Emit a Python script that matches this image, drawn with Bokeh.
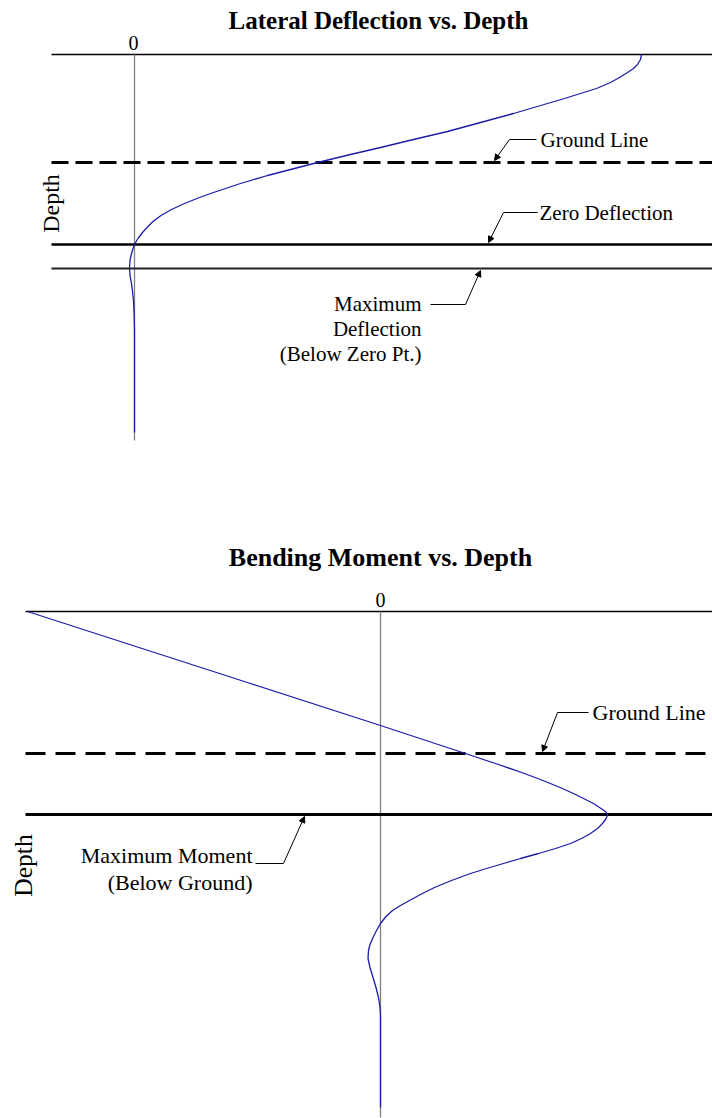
import math
from bokeh.plotting import figure
from bokeh.models import Range1d, Arrow, NormalHead
from bokeh.layouts import column
from bokeh.embed import file_html
from bokeh.resources import INLINE
from bokeh.core.properties import value

FONT = value("Liberation Serif")

# ---------------- Lateral deflection vs depth (units: 1 = 10 px of the original) -------------
defl_depth = [0, 0.5, 1.0, 1.4, 1.8, 2.3, 2.8, 3.4, 3.9, 4.4, 4.9, 5.9, 6.8, 7.7, 8.5, 9.3,
              10.0, 10.8, 12.1, 12.9, 13.8, 14.3, 14.9, 15.5, 16.1, 16.7, 17.3, 17.8, 18.3,
              18.6, 19.0, 19.5, 19.9, 20.6, 21.3, 22.1, 22.9, 23.7, 24.6, 26.1, 27.6, 37.8]
defl_value = [50.7, 50.6, 50.3, 49.9, 49.3, 48.5, 47.6, 46.2, 44.6, 43.0, 41.3, 37.9, 34.6, 31.3,
              27.9, 24.6, 21.6, 18.3, 13.3, 10.6, 7.9, 6.5, 5.0, 3.7, 2.65, 1.85, 1.25, 0.8, 0.42,
              0.22, 0.0, -0.18, -0.3, -0.45, -0.5, -0.45, -0.3, -0.2, -0.1, -0.03, 0.0, 0.0]
defl_pile_toe = 38.6
defl_ground = 10.8
defl_zero = 19.0
defl_max = 21.4
defl_line_start = -8.3

# ---------------- Bending moment vs depth -------------
mom_depth = [0, 7.2, 11.4, 14.2, 15.2, 16.2, 17.0, 17.7, 18.3, 18.8, 19.2, 19.6, 19.9, 20.1,
             20.3, 20.5, 20.8, 21.2, 21.7, 22.2, 22.7, 23.2, 23.7, 24.2, 24.7, 25.2, 25.7,
             26.2, 26.9, 27.6, 28.3, 28.9, 29.4, 29.9, 30.5, 31.2, 31.9, 32.6, 33.3, 33.9,
             34.7, 35.6, 36.6, 37.6, 38.6, 39.6, 40.4, 49.6]
mom_value = [-35.3, -13.0, 0.0, 8.5, 11.5, 14.4, 16.5, 18.2, 19.5, 20.5, 21.3, 21.9, 22.35, 22.6,
             22.7, 22.65, 22.5, 22.2, 21.7, 21.0, 20.1, 19.0, 17.5, 15.8, 14.0, 12.3, 10.6,
             9.0, 7.1, 5.4, 4.0, 2.9, 2.0, 1.2, 0.55, 0.0, -0.4, -0.75, -1.05, -1.2,
             -1.25, -1.05, -0.75, -0.45, -0.2, -0.05, 0.0, 0.0]
mom_pile_toe = 50.6
mom_ground = 14.2
mom_max = 20.3
mom_line_start = -35.5

# ---------------- annotation positions (data units) -------------
t1_title = (24.4, -3.4)
t1_zero = (-0.1, -1.2)
t1_ground_txt = (40.6, 8.5)
t1_ground_lead_x = [40.2, 37.5, 36.0]
t1_ground_lead_y = [8.5, 8.5, 10.6]
t1_zero_txt = (40.5, 15.8)
t1_zero_lead_x = [40.3, 36.9, 35.4]
t1_zero_lead_y = [15.8, 15.8, 18.8]
t1_max_txt_x = 28.7
t1_max_txt_y = [24.9, 27.4, 29.9]
t1_max_txt = ["Maximum", "Deflection", "(Below Zero Pt.)"]
t1_max_lead_x = [29.6, 33.1, 34.6]
t1_max_lead_y = [25.0, 25.0, 21.6]
t1_depth = (-8.4, 14.9)

t2_title = (0.0, -5.4)
t2_zero = (0.0, -1.2)
t2_ground_txt = (21.2, 10.1)
t2_ground_lead_x = [20.8, 17.7, 16.2]
t2_ground_lead_y = [10.1, 10.1, 14.0]
t2_max_txt_x = -12.8
t2_max_txt_y = [24.4, 27.1]
t2_max_txt = ["Maximum Moment", "(Below Ground)"]
t2_max_lead_x = [-12.5, -9.7, -7.6]
t2_max_lead_y = [25.2, 25.2, 20.5]
t2_depth = (-35.7, 25.4)

BLUE = "#1c1ca8"


def base_fig(w, h, xr, yr):
    p = figure(width=w, height=h, x_range=Range1d(*xr), y_range=Range1d(*yr),
               output_backend="svg", toolbar_location=None, min_border=0,
               x_axis_location=None, y_axis_location=None)
    p.grid.visible = False
    p.outline_line_color = None
    p.background_fill_color = "white"
    p.border_fill_color = "white"
    return p


def leader(p, xs, ys):
    p.line(xs[:2], ys[:2], line_color="black", line_width=1)
    p.add_layout(Arrow(end=NormalHead(size=6, fill_color="black", line_color="black", line_width=1),
                       x_start=xs[1], y_start=ys[1], x_end=xs[2], y_end=ys[2],
                       line_color="black", line_width=1))


# ================= Figure 1 =================
p1 = base_fig(712, 500, (-13.4, 57.8), (44.6, -5.4))
p1.segment(x0=[defl_line_start], y0=[0], x1=[100], y1=[0], line_color="black", line_width=1.3)
p1.segment(x0=[0], y0=[0], x1=[0], y1=[defl_pile_toe], line_color="#808080", line_width=1.3)
p1.segment(x0=[defl_line_start], y0=[defl_ground], x1=[100], y1=[defl_ground],
           line_color="black", line_width=3, line_dash="17 7")
p1.segment(x0=[defl_line_start], y0=[defl_zero], x1=[100], y1=[defl_zero],
           line_color="black", line_width=2.5)
p1.segment(x0=[defl_line_start], y0=[defl_max], x1=[100], y1=[defl_max],
           line_color="#222222", line_width=2)
p1.line(defl_value, defl_depth, line_color=BLUE, line_width=1.3)

p1.text(x=[t1_title[0]], y=[t1_title[1]], text=["Lateral Deflection vs. Depth"], text_font=FONT,
        text_font_size="25px", text_font_style="bold", text_align="center", text_baseline="middle")
p1.text(x=[t1_zero[0]], y=[t1_zero[1]], text=["0"], text_font=FONT, text_font_size="20px",
        text_align="center", text_baseline="middle")
p1.text(x=[t1_ground_txt[0]], y=[t1_ground_txt[1]], text=["Ground Line"], text_font=FONT,
        text_font_size="21px", text_align="left", text_baseline="middle")
p1.text(x=[t1_zero_txt[0]], y=[t1_zero_txt[1]], text=["Zero Deflection"], text_font=FONT,
        text_font_size="21px", text_align="left", text_baseline="middle")
p1.text(x=[t1_max_txt_x] * 3, y=t1_max_txt_y, text=t1_max_txt, text_font=FONT,
        text_font_size="21px", text_align="right", text_baseline="middle")
p1.text(x=[t1_depth[0]], y=[t1_depth[1]], text=["Depth"], text_font=FONT, text_font_size="24px",
        text_align="center", text_baseline="middle", angle=math.pi / 2)
leader(p1, t1_ground_lead_x, t1_ground_lead_y)
leader(p1, t1_zero_lead_x, t1_zero_lead_y)
leader(p1, t1_max_lead_x, t1_max_lead_y)

# ================= Figure 2 =================
p2 = base_fig(712, 618, (-38.0, 33.2), (50.7, -11.1))
p2.segment(x0=[mom_line_start], y0=[0], x1=[100], y1=[0], line_color="black", line_width=1.3)
p2.segment(x0=[0], y0=[0], x1=[0], y1=[mom_pile_toe], line_color="#808080", line_width=1.3)
p2.segment(x0=[mom_line_start], y0=[mom_ground], x1=[100], y1=[mom_ground],
           line_color="black", line_width=3, line_dash="20 10")
p2.segment(x0=[mom_line_start], y0=[mom_max], x1=[100], y1=[mom_max],
           line_color="black", line_width=3)
p2.line(mom_value, mom_depth, line_color=BLUE, line_width=1.3)

p2.text(x=[t2_title[0]], y=[t2_title[1]], text=["Bending Moment vs. Depth"], text_font=FONT,
        text_font_size="26px", text_font_style="bold", text_align="center", text_baseline="middle")
p2.text(x=[t2_zero[0]], y=[t2_zero[1]], text=["0"], text_font=FONT, text_font_size="20px",
        text_align="center", text_baseline="middle")
p2.text(x=[t2_ground_txt[0]], y=[t2_ground_txt[1]], text=["Ground Line"], text_font=FONT,
        text_font_size="22px", text_align="left", text_baseline="middle")
p2.text(x=[t2_max_txt_x] * 2, y=t2_max_txt_y, text=t2_max_txt, text_font=FONT,
        text_font_size="22px", text_align="right", text_baseline="middle")
p2.text(x=[t2_depth[0]], y=[t2_depth[1]], text=["Depth"], text_font=FONT, text_font_size="25.5px",
        text_align="center", text_baseline="middle", angle=math.pi / 2)
leader(p2, t2_ground_lead_x, t2_ground_lead_y)
leader(p2, t2_max_lead_x, t2_max_lead_y)

layout = column(p1, p2, spacing=0)
open("out.html", "w").write(file_html(layout, INLINE))
